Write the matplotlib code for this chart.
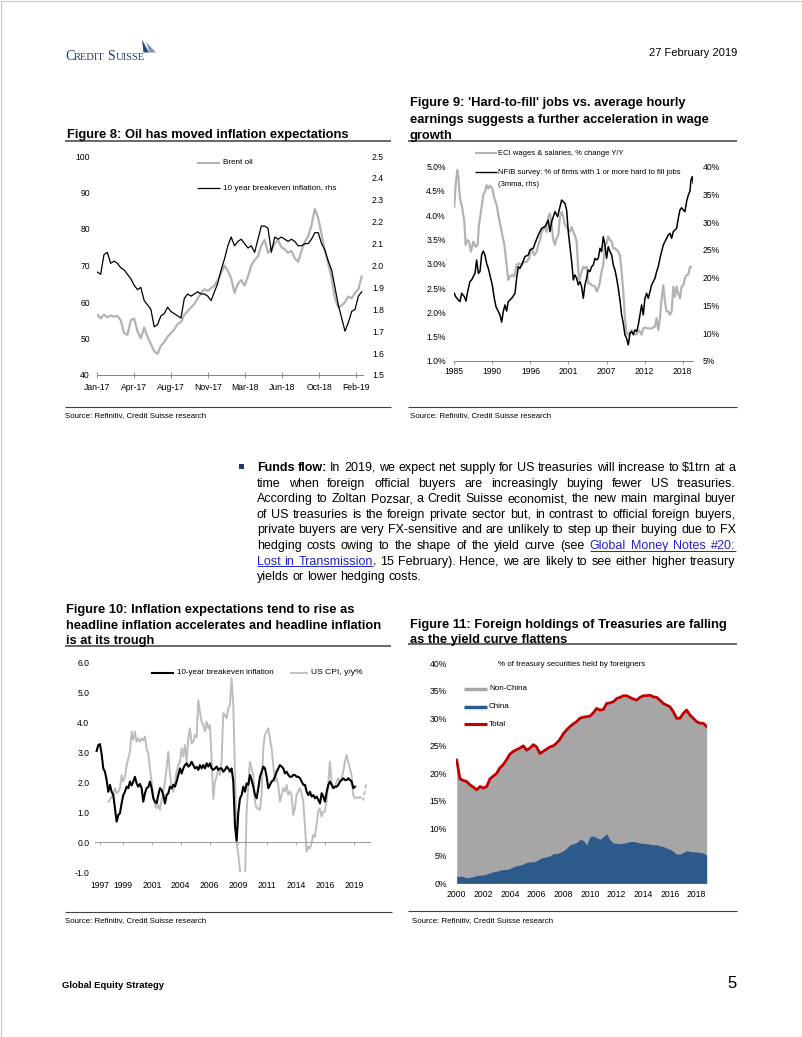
import numpy as np
import matplotlib
matplotlib.use("Agg")
import matplotlib.pyplot as plt
from matplotlib.lines import Line2D
from matplotlib.patches import Rectangle, Polygon
from matplotlib.ticker import FuncFormatter

W, H = 802, 1037
SANS = ['Liberation Sans', 'DejaVu Sans']
SERIF = ['Liberation Serif', 'DejaVu Serif']
plt.rcParams['font.family'] = SANS
TICK = 6.2   # chart tick labels (the page uses a narrow face, so a smaller size keeps widths)

# ---- Figure 8: Brent oil (lhs) vs 10y breakeven (rhs), Jan-17 .. Feb-19
ticks8 = ['Jan-17', 'Apr-17', 'Aug-17', 'Nov-17', 'Mar-18', 'Jun-18', 'Oct-18', 'Feb-19']
brent8 = [56.5, 55.5, 56.5, 55.8, 56.3, 56.0, 56.2, 55.0, 51.5, 51.0,
          55.0, 55.5, 52.0, 50.0, 53.0, 50.5, 48.5, 46.5, 45.8, 48.0,
          49.0, 50.5, 51.5, 52.5, 54.0, 54.5, 56.5, 57.5, 58.5, 59.5,
          61.0, 62.5, 63.5, 63.0, 63.8, 64.5, 66.0, 68.0, 70.0, 68.5,
          66.5, 62.5, 65.0, 66.0, 64.5, 67.0, 70.0, 71.5, 72.5, 75.5,
          77.0, 73.5, 74.5, 76.0, 77.0, 75.0, 74.5, 73.5, 74.0, 72.0,
          71.0, 74.0, 76.5, 78.0, 81.0, 85.5, 83.0, 78.5, 74.0, 70.5,
          66.5, 61.0, 58.5, 59.0, 60.0, 61.5, 61.0, 62.5, 63.5, 67.0]
bei8 = [1.97, 1.96, 2.05, 2.06, 2.01, 2.02, 2.01, 1.99, 1.98, 1.96,
        1.94, 1.91, 1.89, 1.90, 1.84, 1.82, 1.80, 1.72, 1.73, 1.77,
        1.78, 1.81, 1.79, 1.78, 1.77, 1.76, 1.85, 1.87, 1.86, 1.87,
        1.88, 1.87, 1.87, 1.86, 1.84, 1.88, 1.92, 1.98, 2.03, 2.09,
        2.13, 2.09, 2.11, 2.12, 2.10, 2.08, 2.09, 2.06, 2.12, 2.18,
        2.18, 2.17, 2.06, 2.13, 2.12, 2.13, 2.12, 2.11, 2.12, 2.11,
        2.09, 2.09, 2.10, 2.10, 2.12, 2.15, 2.15, 2.10, 2.07, 2.02,
        1.98, 1.90, 1.82, 1.76, 1.70, 1.74, 1.79, 1.80, 1.86, 1.88]
days8_end = 772.6

# ---- Figure 9: ECI wages (lhs %) vs NFIB hard-to-fill (rhs %)
ticks9 = ['1985', '1990', '1996', '2001', '2007', '2012', '2018']
eci_yr = [1985.00, 1985.19, 1985.43, 1985.58, 1985.82, 1986.16, 1986.45, 1986.64, 1986.83, 1987.12,
          1987.41, 1987.75, 1988.08, 1988.37, 1988.56, 1988.85, 1989.19, 1989.43, 1989.67, 1989.91,
          1990.15, 1990.49, 1990.78, 1991.12, 1991.45, 1991.84, 1992.23, 1992.56, 1992.80, 1993.04,
          1993.38, 1993.67, 1994.01, 1994.34, 1994.73, 1995.12, 1995.45, 1995.79, 1996.18, 1996.56,
          1996.90, 1997.14, 1997.38, 1997.62, 1998.01, 1998.34, 1998.58, 1998.82, 1999.07, 1999.31,
          1999.55, 1999.79, 2000.03, 2000.27, 2000.51, 2000.75, 2000.99, 2001.38, 2001.71, 2001.96,
          2002.20, 2002.44, 2002.68, 2002.92, 2003.06, 2003.40, 2003.64, 2003.88, 2004.12, 2004.36,
          2004.60, 2004.85, 2005.33, 2005.57, 2005.81, 2006.05, 2006.29, 2006.53, 2006.77, 2007.01,
          2007.25, 2007.50, 2007.74, 2007.98, 2008.22, 2008.70, 2008.94, 2009.18, 2009.42, 2009.66,
          2009.90, 2010.14, 2010.39, 2010.63, 2010.87, 2011.11, 2011.35, 2011.59, 2011.83, 2012.07,
          2012.31, 2012.55, 2013.03, 2013.52, 2014.00, 2014.24, 2014.48, 2014.72, 2014.96, 2015.20,
          2015.44, 2015.68, 2015.92, 2016.17, 2016.41, 2016.65, 2016.89, 2017.13, 2017.37, 2017.61,
          2017.85, 2018.09, 2018.33, 2018.57, 2018.82, 2019.06, 2019.20]
eci = [4.18, 4.62, 4.93, 4.79, 4.35, 4.14, 3.87, 3.39, 3.49, 3.46,
       3.25, 3.46, 3.35, 3.39, 3.80, 4.07, 4.42, 4.49, 4.62, 4.55,
       4.61, 4.55, 4.35, 4.21, 3.94, 3.66, 3.39, 2.98, 2.67, 2.74,
       2.77, 2.74, 2.98, 3.01, 2.98, 3.04, 3.04, 3.11, 3.32, 3.18,
       3.25, 3.39, 3.49, 3.66, 3.76, 3.66, 3.97, 4.04, 3.80, 3.49,
       3.39, 3.53, 3.59, 3.97, 4.07, 3.97, 3.80, 3.73, 3.66, 3.76,
       3.66, 3.59, 3.46, 2.84, 2.67, 2.84, 2.94, 2.91, 2.94, 2.60,
       2.60, 2.56, 2.53, 2.43, 2.50, 2.63, 2.84, 2.98, 3.39, 3.42,
       3.56, 3.49, 3.46, 3.32, 3.32, 3.25, 3.18, 2.84, 2.43, 1.88,
       1.57, 1.54, 1.60, 1.64, 1.54, 1.55, 1.55, 1.64, 1.60, 1.54,
       1.67, 1.69, 1.67, 1.67, 1.71, 1.88, 1.64, 1.88, 2.29, 2.56,
       2.22, 2.02, 2.02, 1.95, 2.02, 2.53, 2.32, 2.53, 2.39, 2.29,
       2.53, 2.56, 2.70, 2.77, 2.78, 2.94, 2.94]
nfib_yr = [1985.00, 1985.19, 1985.58, 1985.82, 1986.06, 1986.45, 1986.69, 1986.93, 1987.26, 1987.50,
           1987.99, 1988.23, 1988.47, 1988.71, 1988.95, 1989.19, 1989.43, 1989.67, 1989.91, 1990.15,
           1990.49, 1990.78, 1991.02, 1991.36, 1991.60, 1991.84, 1992.08, 1992.32, 1992.56, 1992.80,
           1993.29, 1993.77, 1994.01, 1994.25, 1994.49, 1994.73, 1995.21, 1995.69, 1995.93, 1996.42,
           1996.66, 1997.14, 1997.62, 1998.10, 1998.58, 1998.82, 1999.07, 1999.55, 1999.93, 2000.27,
           2000.51, 2000.99, 2001.23, 2001.47, 2001.96, 2002.20, 2002.44, 2002.68, 2002.92, 2003.16,
           2003.40, 2003.64, 2003.88, 2004.12, 2004.36, 2004.60, 2004.85, 2005.09, 2005.33, 2005.57,
           2005.81, 2006.05, 2006.29, 2006.53, 2006.77, 2007.01, 2007.25, 2007.50, 2007.74, 2007.98,
           2008.22, 2008.46, 2008.70, 2008.94, 2009.18, 2009.42, 2009.66, 2009.90, 2010.14, 2010.39,
           2010.63, 2010.87, 2011.11, 2011.35, 2011.59, 2011.83, 2012.07, 2012.31, 2012.55, 2012.79,
           2013.03, 2013.28, 2013.52, 2013.76, 2014.00, 2014.24, 2014.48, 2014.72, 2014.96, 2015.20,
           2015.44, 2015.68, 2015.92, 2016.17, 2016.41, 2016.65, 2016.89, 2017.13, 2017.37, 2017.61,
           2017.85, 2018.09, 2018.33, 2018.57, 2018.82, 2019.06, 2019.20, 2019.39, 2019.54]
nfib = [17.2, 16.6, 16.0, 15.7, 17.2, 16.6, 15.8, 17.5, 19.3, 19.6,
        20.8, 23.2, 20.8, 21.1, 24.1, 24.8, 24.1, 22.6, 21.7, 20.5,
        18.7, 16.3, 14.8, 13.9, 13.3, 12.0, 13.9, 15.1, 14.0, 15.7,
        16.3, 17.2, 19.9, 22.0, 21.7, 22.3, 23.8, 24.1, 25.0, 25.3,
        26.2, 27.7, 28.9, 29.2, 30.4, 28.3, 30.1, 31.9, 31.0, 32.8,
        34.0, 33.4, 32.2, 28.3, 22.9, 19.6, 20.5, 19.9, 18.7, 19.3,
        18.4, 16.3, 18.7, 19.9, 21.4, 21.1, 22.0, 22.3, 23.5, 23.2,
        23.5, 25.3, 24.7, 27.4, 25.9, 23.5, 25.6, 24.7, 24.1, 22.3,
        21.4, 19.9, 18.1, 16.0, 13.3, 11.8, 9.7, 9.1, 7.9, 10.0,
        10.3, 9.8, 10.6, 10.3, 11.5, 13.3, 15.1, 13.3, 16.3, 17.2,
        16.3, 17.5, 18.7, 19.3, 19.9, 21.1, 22.0, 23.5, 24.7, 25.9,
        26.5, 27.1, 27.7, 28.0, 27.1, 28.3, 28.6, 28.9, 30.7, 32.2,
        32.6, 32.2, 31.9, 33.7, 34.9, 35.6, 37.6, 38.2, 37.0]

# ---- Figure 10: 10y breakeven vs US CPI y/y (evenly spaced observations)
ticks10_pos = [1997.0, 1999.0, 2001.5, 2004.0, 2006.5, 2009.0, 2011.5, 2014.0, 2016.5, 2019.0]
ticks10 = ['1997', '1999', '2001', '2004', '2006', '2009', '2011', '2014', '2016', '2019']
bei10_span = (1996.72, 2019.09)
bei10 = [3.05, 3.25, 3.28, 2.95, 2.47, 2.36, 2.08, 1.69, 1.92, 1.69,
         1.58, 1.14, 0.69, 0.91, 0.97, 1.30, 1.58, 1.69, 1.86, 1.81,
         2.03, 1.90, 2.03, 2.19, 1.97, 1.86, 1.95, 1.81, 1.36, 1.64,
         1.81, 1.85, 2.03, 1.81, 1.47, 1.36, 1.30, 1.58, 1.81, 1.75,
         1.58, 1.30, 1.58, 1.64, 1.86, 1.80, 1.92, 1.86, 2.03, 2.25,
         2.47, 2.30, 2.47, 2.58, 2.64, 2.53, 2.58, 2.69, 2.58, 2.47,
         2.52, 2.42, 2.58, 2.47, 2.58, 2.47, 2.64, 2.53, 2.64, 2.47,
         2.42, 2.47, 2.53, 2.42, 2.47, 2.47, 2.36, 2.42, 2.53, 2.47,
         2.36, 2.47, 2.03, 0.55, 0.05, 1.00, 1.47, 1.58, 1.86, 1.69,
         1.97, 1.92, 2.25, 2.08, 1.86, 1.58, 1.47, 1.81, 2.19, 2.36,
         2.53, 2.47, 2.19, 1.81, 1.92, 2.03, 2.08, 2.19, 2.36, 2.47,
         2.58, 2.53, 2.47, 2.30, 2.36, 2.25, 2.19, 2.19, 2.25, 2.25,
         2.19, 2.19, 2.14, 2.03, 1.92, 1.92, 1.69, 1.58, 1.69, 1.53,
         1.58, 1.47, 1.53, 1.42, 1.30, 1.64, 1.53, 1.36, 1.69, 1.92,
         2.03, 1.92, 1.81, 1.86, 1.86, 1.92, 2.03, 2.08, 2.14, 2.08,
         2.08, 2.14, 2.08, 2.03, 1.81, 1.86]
cpi10_span = (1997.73, 2019.37)
cpi10 = [1.36, 1.42, 1.53, 1.58, 1.81, 1.64, 1.69, 1.81, 2.25, 2.03,
         2.19, 2.58, 2.81, 3.03, 3.70, 3.42, 3.70, 3.36, 3.47, 3.36,
         3.47, 3.40, 3.53, 3.14, 2.97, 2.47, 2.03, 1.58, 1.25, 1.14,
         1.25, 1.08, 1.42, 1.69, 2.03, 2.47, 3.03, 2.30, 1.86, 1.69,
         2.03, 2.36, 2.58, 2.69, 3.14, 2.86, 3.25, 2.69, 3.47, 3.81,
         3.31, 3.36, 3.59, 3.50, 4.75, 4.36, 4.03, 3.92, 3.70, 4.03,
         3.81, 3.92, 2.81, 1.45, 2.03, 2.19, 2.47, 2.25, 2.69, 4.31,
         4.25, 4.14, 4.47, 4.58, 5.48, 4.60, 2.40, -0.03, -0.40, -0.90,
         -1.50, -1.60, -1.40, 1.00, 1.90, 2.69, 2.47, 2.25, 1.36, 1.14,
         1.14, 1.08, 1.58, 3.14, 3.59, 3.70, 3.81, 3.47, 3.14, 2.58,
         2.03, 2.14, 1.92, 1.36, 1.58, 1.81, 1.69, 1.92, 1.58, 1.70,
         1.58, 0.91, 1.14, 1.58, 1.70, 1.81, 1.65, 1.36, 0.58, -0.31,
         -0.14, -0.20, -0.03, 0.25, 0.19, 0.58, 1.03, 1.14, 0.86, 1.03,
         1.03, 1.36, 1.92, 2.69, 2.03, 1.81, 1.86, 2.03, 2.14, 2.03,
         2.14, 2.36, 2.69, 2.92, 2.69, 2.47, 2.25, 1.58, 1.47, 1.50,
         1.50]
cpi10_fc_span = (2019.37, 2020.10)
cpi10_fc = [1.50, 1.48, 1.55, 1.42, 1.75, 2.00]

# ---- Figure 11: % of treasuries held by foreigners, 2000 .. 2018.75
yr11_span = (2000.0, 2018.75)
total11 = [22.4, 19.0, 18.7, 18.5, 17.9, 17.5, 17.0, 17.6, 17.3, 17.6,
           19.0, 19.5, 20.0, 21.0, 21.6, 22.5, 23.5, 24.0, 24.3, 24.6,
           25.0, 24.2, 24.6, 25.2, 24.8, 23.6, 24.0, 24.4, 24.8, 25.0,
           25.5, 26.2, 27.2, 27.9, 28.5, 29.0, 29.4, 30.0, 30.2, 30.3,
           30.4, 31.0, 31.8, 31.5, 31.6, 32.7, 32.8, 33.0, 33.6, 33.8,
           34.1, 34.1, 33.8, 33.5, 33.3, 33.8, 34.1, 34.1, 34.2, 33.9,
           33.8, 33.3, 32.7, 32.4, 32.1, 31.2, 30.0, 30.0, 30.9, 31.5,
           30.6, 30.0, 29.4, 29.1, 29.1, 28.5]
china11 = [1.2, 1.3, 1.2, 1.0, 1.1, 1.2, 1.4, 1.5, 1.5, 1.7,
           1.9, 2.1, 2.2, 2.4, 2.5, 2.5, 2.7, 3.0, 3.2, 3.3,
           3.5, 3.8, 3.9, 3.9, 4.1, 4.5, 4.7, 4.8, 5.0, 5.4,
           5.4, 5.6, 5.9, 6.4, 7.0, 7.2, 7.4, 8.0, 7.8, 7.0,
           8.5, 8.6, 8.3, 8.0, 8.5, 9.0, 7.9, 7.3, 7.3, 7.2,
           7.3, 7.4, 7.6, 7.6, 7.5, 7.3, 7.3, 7.2, 7.1, 7.0,
           7.0, 6.8, 6.7, 6.4, 6.2, 5.8, 5.3, 5.3, 5.6, 5.9,
           5.8, 5.7, 5.7, 5.6, 5.5, 5.1]

# ---- body text (line breaks as on the page)
para = [
    "**Funds flow:** In 2019, we expect net supply for US treasuries will increase to $1trn at a",
    "time when foreign official buyers are increasingly buying fewer US treasuries.",
    "According to Zoltan Pozsar, a Credit Suisse economist, the new main marginal buyer",
    "of US treasuries is the foreign private sector but, in contrast to official foreign buyers,",
    "private buyers are very FX-sensitive and are unlikely to step up their buying due to FX",
    "hedging costs owing to the shape of the yield curve (see [[Global Money Notes #20:]]",
    "[[Lost in Transmission]], 15 February). Hence, we are likely to see either higher treasury",
    "yields or lower hedging costs.",
]

GRAY = '#b3b3b3'
LINK = '#2323c8'
RULE = '#404040'


def fx(x):
    return x / W


def fy(y):
    return 1 - y / H


def rect(l, t, r, b):
    return [fx(l), fy(b), (r - l) / W, (b - t) / H]


fig = plt.figure(figsize=(W / 100, H / 100), dpi=100)
fig.patch.set_facecolor('white')
renderer = fig.canvas.get_renderer()


def hline(x0, x1, y, color, lw):
    fig.add_artist(Line2D([fx(x0), fx(x1)], [fy(y), fy(y)], transform=fig.transFigure,
                          color=color, lw=lw, solid_capstyle='butt'))


def ftext(x, y, s, **kw):
    return fig.text(fx(x), fy(y), s, **kw)


def tw(t):
    return t.get_window_extent(renderer).width


def title(x, baselines, lines, x1, rule_y):
    for y, s in zip(baselines, lines):
        ftext(x, y, s, weight='bold', size=9.3, va='baseline')
    hline(65 if x < 200 else 408, x1, rule_y, RULE, 1.1)


def source(x, y, x0, x1, rule_y):
    hline(x0, x1, rule_y, RULE, 0.8)
    ftext(x, y, 'Source: Refinitiv, Credit Suisse research', size=5.7, va='center')


def strip(ax):
    for s in ax.spines.values():
        s.set_visible(False)
    ax.patch.set_alpha(0)


# page frame
fig.add_artist(Rectangle((0.5 / W, 0.5 / H), 1 - 1 / W, 1 - 1 / H, transform=fig.transFigure,
                         fill=False, ec='#c8c8c8', lw=0.8))

# header: logo + date
x = 65
for s, sz in [('C', 10), ('REDIT', 7.6), ('S', 10), ('UISSE', 7.6)]:
    t = ftext(x, 59.5, s, family=SERIF, size=sz, color='#1d3c6e', va='baseline')
    x += tw(t) + (2.5 if s == 'REDIT' else 0)
for pts, col in [([(142, 39.5), (149, 52.5), (143.5, 52.5)], '#2b4a7a'),
                 ([(146, 42), (156, 52.5), (149.5, 52.5)], '#8096b6')]:
    fig.add_artist(Polygon([(fx(a), fy(b)) for a, b in pts], closed=True,
                           transform=fig.transFigure, fc=col, ec='none'))
ftext(737, 56, '27 February 2019', size=8, ha='right', va='baseline')

# ---------------- Figure 8
title(66.7, [138.3], ['Figure 8: Oil has moved inflation expectations'], 391, 141)
ax8 = fig.add_axes(rect(97.3, 156, 362.9, 375))
x8 = np.linspace(0, days8_end, len(brent8))
ax8.plot(x8, brent8, color=GRAY, lw=1.6)
ax8.set_xlim(0, 776)
ax8.set_ylim(40, 100)
ax8.set_yticks(range(40, 101, 10))
ax8.set_xticks(np.arange(len(ticks8)) * 108)
ax8.set_xticklabels(ticks8)
ax8r = ax8.twinx()
ax8r.plot(x8, bei8, color='black', lw=0.9)
ax8r.set_ylim(1.5, 2.5)
ax8r.set_yticks(np.round(np.arange(1.5, 2.51, 0.1), 1))
ax8r.yaxis.set_major_formatter(FuncFormatter(lambda v, p: f'{v:.1f}'))
strip(ax8)
strip(ax8r)
ax8.spines['bottom'].set_visible(True)
ax8.spines['bottom'].set_color('#808080')
ax8.spines['bottom'].set_linewidth(0.7)
ax8.tick_params(axis='x', direction='inout', length=4, width=0.6, color='#808080', labelsize=TICK, pad=3.5)
ax8.tick_params(axis='y', length=0, labelsize=TICK, pad=5.3)
ax8r.tick_params(axis='y', length=0, labelsize=TICK, pad=6.5)
hline(197, 220, 162.7, GRAY, 1.5)
ftext(223.3, 162.7, 'Brent oil', size=5.9, va='center')
hline(197, 220, 188.3, 'black', 0.9)
ftext(223.3, 188.3, '10 year breakeven inflation, rhs', size=5.9, va='center')
source(65, 415.7, 65, 391, 406.7)

# ---------------- Figure 9
title(410, [106, 122.6, 138.6], ["Figure 9: 'Hard-to-fill' jobs vs. average hourly",
                                 'earnings suggests a further acceleration in wage',
                                 'growth'], 737, 141)
ax9 = fig.add_axes(rect(454.3, 166.7, 693.3, 361))
ax9.plot(eci_yr, eci, color=GRAY, lw=1.6)
ax9.set_xlim(1985, 2019.54)
ax9.set_ylim(1.0, 5.0)
ax9.set_yticks(np.round(np.arange(1.0, 5.01, 0.5), 1))
ax9.yaxis.set_major_formatter(FuncFormatter(lambda v, p: f'{v:.1f}%'))
ax9.set_xticks([1985 + 5.5 * k for k in range(len(ticks9))])
ax9.set_xticklabels(ticks9)
ax9r = ax9.twinx()
ax9r.plot(nfib_yr, nfib, color='black', lw=1.1)
ax9r.set_ylim(5, 40)
ax9r.set_yticks(range(5, 41, 5))
ax9r.yaxis.set_major_formatter(FuncFormatter(lambda v, p: f'{v:.0f}%'))
strip(ax9)
strip(ax9r)
ax9.spines['bottom'].set_visible(True)
ax9.spines['bottom'].set_color('#808080')
ax9.spines['bottom'].set_linewidth(0.7)
ax9.tick_params(axis='x', direction='out', length=2.5, width=0.6, color='#808080', labelsize=TICK, pad=2)
ax9.tick_params(axis='y', length=0, labelsize=TICK, pad=6.2)
ax9r.tick_params(axis='y', length=0, labelsize=TICK, pad=6.8)
hline(475, 496.7, 153.3, GRAY, 1.5)
ftext(498.3, 153.3, 'ECI wages & salaries, % change Y/Y', size=5.5, va='center')
hline(475, 496.7, 172.3, 'black', 1.0)
ftext(498.3, 172.3, 'NFIB survey: % of firms with 1 or more hard to fill jobs', size=5.5, va='center')
ftext(498.3, 184.3, '(3mma, rhs)', size=5.5, va='center')
source(410, 415.7, 408, 737, 406.7)

# ---------------- body paragraph
fig.add_artist(Rectangle((fx(239.2), fy(469.2)), 5 / W, 5 / H, transform=fig.transFigure,
                         fc='#1f3864', ec='none'))


def parse(line):
    words, cur, style, buf, i = [], [], 'n', '', 0
    while i < len(line):
        two = line[i:i + 2]
        if two in ('**', '[[', ']]'):
            if buf:
                cur.append((buf, style))
                buf = ''
            style = {'**': 'n' if style == 'b' else 'b', '[[': 'l', ']]': 'n'}[two]
            i += 2
            continue
        if line[i] == ' ':
            if buf:
                cur.append((buf, style))
                buf = ''
            if cur:
                words.append(cur)
                cur = []
        else:
            buf += line[i]
        i += 1
    if buf:
        cur.append((buf, style))
    if cur:
        words.append(cur)
    return words


L, R = 256.7, 735.5
t1 = ftext(0, 0, 'a a', size=9)
t2 = ftext(0, 0, 'aa', size=9)
space_w = tw(t1) - tw(t2)
t1.remove()
t2.remove()
for i, line in enumerate(para):
    base = 471 + 15.6 * i
    placed = []
    for w in parse(line):
        parts = []
        for s, st in w:
            t = ftext(0, base, s, size=9, va='baseline',
                      weight='bold' if st == 'b' else 'normal',
                      color=LINK if st == 'l' else 'black')
            parts.append((t, tw(t), st))
        placed.append(parts)
    total = sum(p[1] for w in placed for p in w)
    gap = (R - L - total) / (len(placed) - 1) if i < len(para) - 1 else space_w
    x = L
    span = None
    for w in placed:
        for t, wd, st in w:
            t.set_x(fx(x))
            if st == 'l':
                span = [x if span is None else span[0], x + wd]
            elif span:
                hline(span[0], span[1], base + 1.8, LINK, 0.7)
                span = None
            x += wd
        x += gap
    if span:
        hline(span[0], span[1], base + 1.8, LINK, 0.7)

# ---------------- Figure 10
title(66, [613.3, 628.6, 643.6], ['Figure 10: Inflation expectations tend to rise as',
                                  'headline inflation accelerates and headline inflation',
                                  'is at its trough'], 391, 646)
ax10 = fig.add_axes(rect(95, 662.7, 370, 872.3))
ax10.plot(np.linspace(*cpi10_span, len(cpi10)), cpi10, color='#bdbdbd', lw=1.4)
ax10.plot(np.linspace(*cpi10_fc_span, len(cpi10_fc)), cpi10_fc, color='#bdbdbd', lw=1.4, ls=(0, (2, 1.5)))
ax10.plot(np.linspace(*bei10_span, len(bei10)), bei10, color='black', lw=1.5)
ax10.set_xlim(1996.58, 2020.39)
ax10.set_ylim(-1, 6)
ax10.set_yticks(range(-1, 7))
ax10.yaxis.set_major_formatter(FuncFormatter(lambda v, p: f'{v:.1f}'))
strip(ax10)
ax10.spines['bottom'].set_visible(True)
ax10.spines['bottom'].set_position(('data', 0))
ax10.spines['bottom'].set_color('#a0a0a0')
ax10.spines['bottom'].set_linewidth(0.8)
ax10.set_xticks(ticks10_pos)
ax10.tick_params(axis='x', direction='out', length=2.5, width=0.6, color='#a0a0a0', labelbottom=False)
ax10.tick_params(axis='y', length=0, labelsize=TICK, pad=4.1)
for xv, lab in zip(ticks10_pos, ticks10):
    ax10.text(xv, -(886 - 872.3) / (872.3 - 662.7), lab, transform=ax10.get_xaxis_transform(),
              ha='center', va='center', size=TICK)
hline(150.7, 174, 672.7, 'black', 1.5)
ftext(176.7, 672.7, '10-year breakeven inflation', size=5.8, va='center')
hline(290, 308.3, 672.7, '#bdbdbd', 1.3)
ftext(310.7, 672.7, 'US CPI, y/y%', size=6.1, va='center')
source(65, 921, 65, 392, 911.7)

# ---------------- Figure 11
title(410, [628.3, 642.6], ['Figure 11: Foreign holdings of Treasuries are falling',
                            'as the yield curve flattens'], 737, 644.3)
ax11 = fig.add_axes(rect(456, 663.3, 707.3, 883.3))
yr11 = np.linspace(*yr11_span, len(total11))
ax11.fill_between(yr11, 0, total11, color='#a6a6a6', lw=0)
ax11.fill_between(yr11, 0, china11, color='#2c5a8a', lw=0)
ax11.plot(yr11, total11, color='#c00000', lw=2.0)
ax11.set_xlim(1999.95, 2018.8)
ax11.set_ylim(0, 40)
ax11.set_yticks(range(0, 41, 5))
ax11.yaxis.set_major_formatter(FuncFormatter(lambda v, p: f'{v:.0f}%'))
ax11.set_xticks(range(2000, 2019, 2))
strip(ax11)
ax11.tick_params(axis='x', length=0, labelsize=TICK, pad=4.5)
ax11.tick_params(axis='y', length=0, labelsize=TICK, pad=6.7)
ftext(571.7, 664.3, '% of treasury securities held by foreigners', size=5.7, ha='center', va='center')
hline(464.3, 486.7, 689, '#a6a6a6', 2.5)
ftext(489, 689, 'Non-China', size=5.8, va='center')
hline(464.3, 486.7, 706.7, '#2c5a8a', 2.5)
ftext(489, 706.7, 'China', size=5.8, va='center')
hline(464.3, 486.7, 724, '#c00000', 2.2)
ftext(489, 724, 'Total', size=5.8, va='center')
source(411.7, 921, 408, 737, 911)

# footer
ftext(62, 987.5, 'Global Equity Strategy', weight='bold', size=6.8, va='baseline')
ftext(737, 988, '5', size=12, ha='right', va='baseline')

fig.savefig('out.png', dpi=100)
